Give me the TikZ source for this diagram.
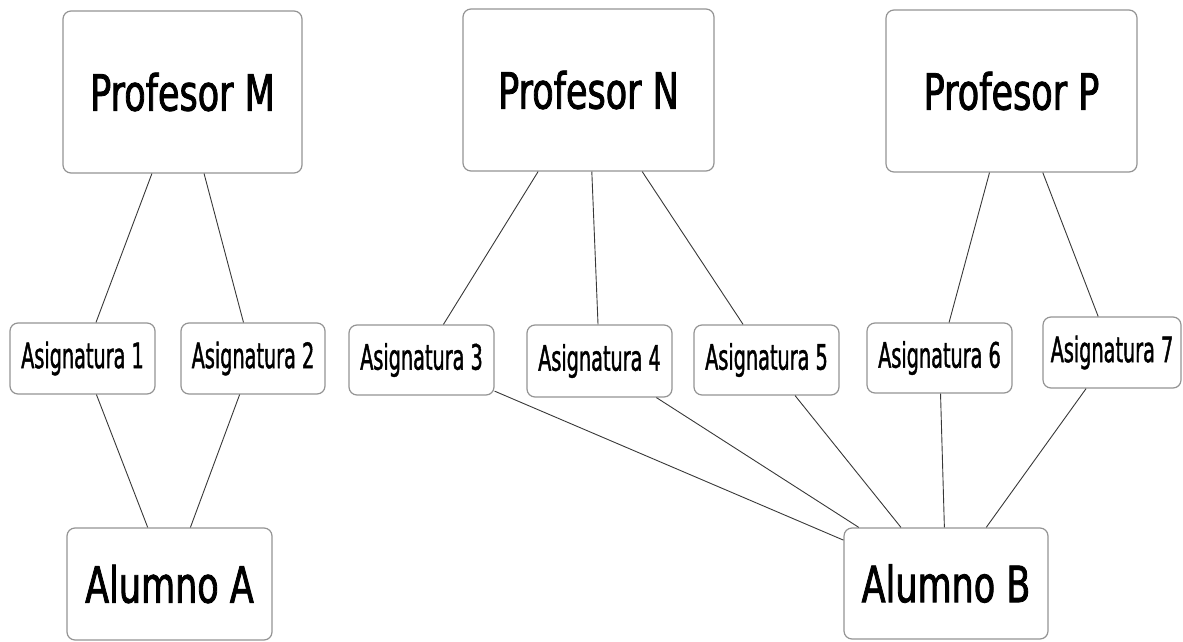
\documentclass[tikz,border=0pt]{standalone}
\usepackage{fontspec}
\newfontfamily\boxfontbig[FakeStretch=0.70,FakeBold=1.6]{DejaVu Sans}
\newfontfamily\boxfontsmall[FakeStretch=0.55,FakeBold=1.2]{DejaVu Sans}
\begin{document}
\begin{tikzpicture}[x=1pt,y=-1pt,
  box/.style={draw=black!42, line width=1.2pt, rounded corners=8pt, fill=white,
    inner sep=0pt, align=center},
  bigbox/.style={box, font=\boxfontbig\fontsize{50}{60}\selectfont},
  smallbox/.style={box, font=\boxfontsmall\fontsize{35}{42}\selectfont},
  link/.style={draw=black!78, line width=0.9pt}]
\useasboundingbox (0,0) rectangle (1183,642);

% teachers
\node[bigbox, minimum width=239pt, minimum height=162pt] (pm) at (182.5,92) {Profesor M};
\node[bigbox, minimum width=251pt, minimum height=162pt] (pn) at (588.5,90) {Profesor N};
\node[bigbox, minimum width=251pt, minimum height=162pt] (pp) at (1011.5,91) {Profesor P};

% subjects
\node[smallbox, minimum width=145pt, minimum height=71pt] (a1) at (82.5,358.5) {Asignatura 1};
\node[smallbox, minimum width=144pt, minimum height=71pt] (a2) at (253,358.5) {Asignatura 2};
\node[smallbox, minimum width=145pt, minimum height=70pt] (a3) at (421.5,360) {Asignatura 3};
\node[smallbox, minimum width=145pt, minimum height=72pt] (a4) at (599.5,361) {Asignatura 4};
\node[smallbox, minimum width=145pt, minimum height=70pt] (a5) at (766.5,360) {Asignatura 5};
\node[smallbox, minimum width=145pt, minimum height=70pt] (a6) at (939.5,358) {Asignatura 6};
\node[smallbox, minimum width=138pt, minimum height=71pt] (a7) at (1112,352.5) {Asignatura 7};

% students
\node[bigbox, minimum width=205pt, minimum height=112pt] (sa) at (169.5,584) {Alumno A};
\node[bigbox, minimum width=204pt, minimum height=111pt] (sb) at (946,583.5) {Alumno B};

% connectors, clipped at the box borders
\draw[link] (pm) -- (a1);
\draw[link] (pm) -- (a2);
\draw[link] (a1) -- (sa);
\draw[link] (a2) -- (sa);
\draw[link] (pn) -- (a3);
\draw[link] (pn) -- (a4);
\draw[link] (pn) -- (a5);
\draw[link] (pp) -- (a6);
\draw[link] (pp) -- (a7);
\draw[link] (a3) -- (sb);
\draw[link] (a4) -- (sb);
\draw[link] (a5) -- (sb);
\draw[link] (a6) -- (sb);
\draw[link] (a7) -- (sb);
\end{tikzpicture}
\end{document}
